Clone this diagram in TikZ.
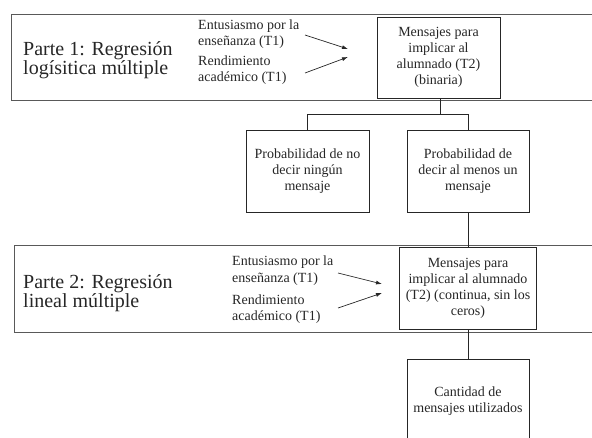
\documentclass[tikz,border=0pt]{standalone}
\usepackage{fontspec}
\setmainfont{Liberation Serif}
\usetikzlibrary{arrows.meta}
\begin{document}
\begin{tikzpicture}[x=1pt,y=-1pt,
  txt/.style={text=black!85},
  box/.style={draw=black!85, line width=0.8pt, align=center, inner sep=0pt, txt,
    font=\fontsize{14}{16}\selectfont},
  lbl/.style={align=left, anchor=west, inner sep=0pt, txt, font=\fontsize{14}{16.5}\selectfont},
  part/.style={align=left, anchor=west, inner sep=0pt, txt, font=\fontsize{20}{17.5}\selectfont},
  frame/.style={draw=black!65, line width=1pt},
  arr/.style={-{Latex[length=6pt,width=4pt]}, line width=0.7pt, draw=black!85},
  conn/.style={line width=0.8pt, draw=black!85}]
\clip (0,0) rectangle (592,437);
% frames
\draw[frame] (11,14) rectangle (600,100);
\draw[frame] (14,245) rectangle (600,332);
% part 1
\node[part] (p1) at (23,60) {Parte 1: Regresión\\logísitica múltiple};
\node[lbl] (e1) at (198,34) {Entusiasmo por la\\enseñanza (T1)};
\node[lbl] (r1) at (198,70) {Rendimiento\\académico (T1)};
\node[box, minimum width=123, minimum height=81] (m1) at (438.5,57.5)
  {Mensajes para\\implicar al\\alumnado (T2)\\(binaria)};
\coordinate (a1s) at (305,35); \coordinate (a1e) at (348,49);
\coordinate (a2s) at (305,73); \coordinate (a2e) at (348,57);
\draw[arr] (a1s) -- (a1e);
\draw[arr] (a2s) -- (a2e);
% probability boxes
\node[box, minimum width=123, minimum height=82] (nd) at (307.5,171)
  {Probabilidad de no\\decir ningún\\mensaje};
\node[box, minimum width=122, minimum height=82] (am) at (468,171)
  {Probabilidad de\\decir al menos un\\mensaje};
\coordinate (split) at (440,114);
\draw[conn] (440,98) -- (split) -| (nd.north);
\draw[conn] (split) -| (am.north);
% part 2
\node[part] (p2) at (23,293) {Parte 2: Regresión\\lineal múltiple};
\node[lbl] (e2) at (232,270.5) {Entusiasmo por la\\enseñanza (T1)};
\node[lbl] (r2) at (232,309) {Rendimiento\\académico (T1)};
\node[box, minimum width=137, minimum height=82] (m2) at (468,288)
  {Mensajes para\\implicar al alumnado\\(T2) (continua, sin los\\ceros)};
\coordinate (b1s) at (338,273); \coordinate (b1e) at (382,284);
\coordinate (b2s) at (338,308); \coordinate (b2e) at (382,293);
\draw[arr] (b1s) -- (b1e);
\draw[arr] (b2s) -- (b2e);
\draw[conn] (am.south) -- (m2.north);
% final box
\node[box, minimum width=122, minimum height=85] (cm) at (468,401.5)
  {Cantidad de\\mensajes utilizados};
\draw[conn] (m2.south) -- (cm.north);
\end{tikzpicture}
\end{document}
